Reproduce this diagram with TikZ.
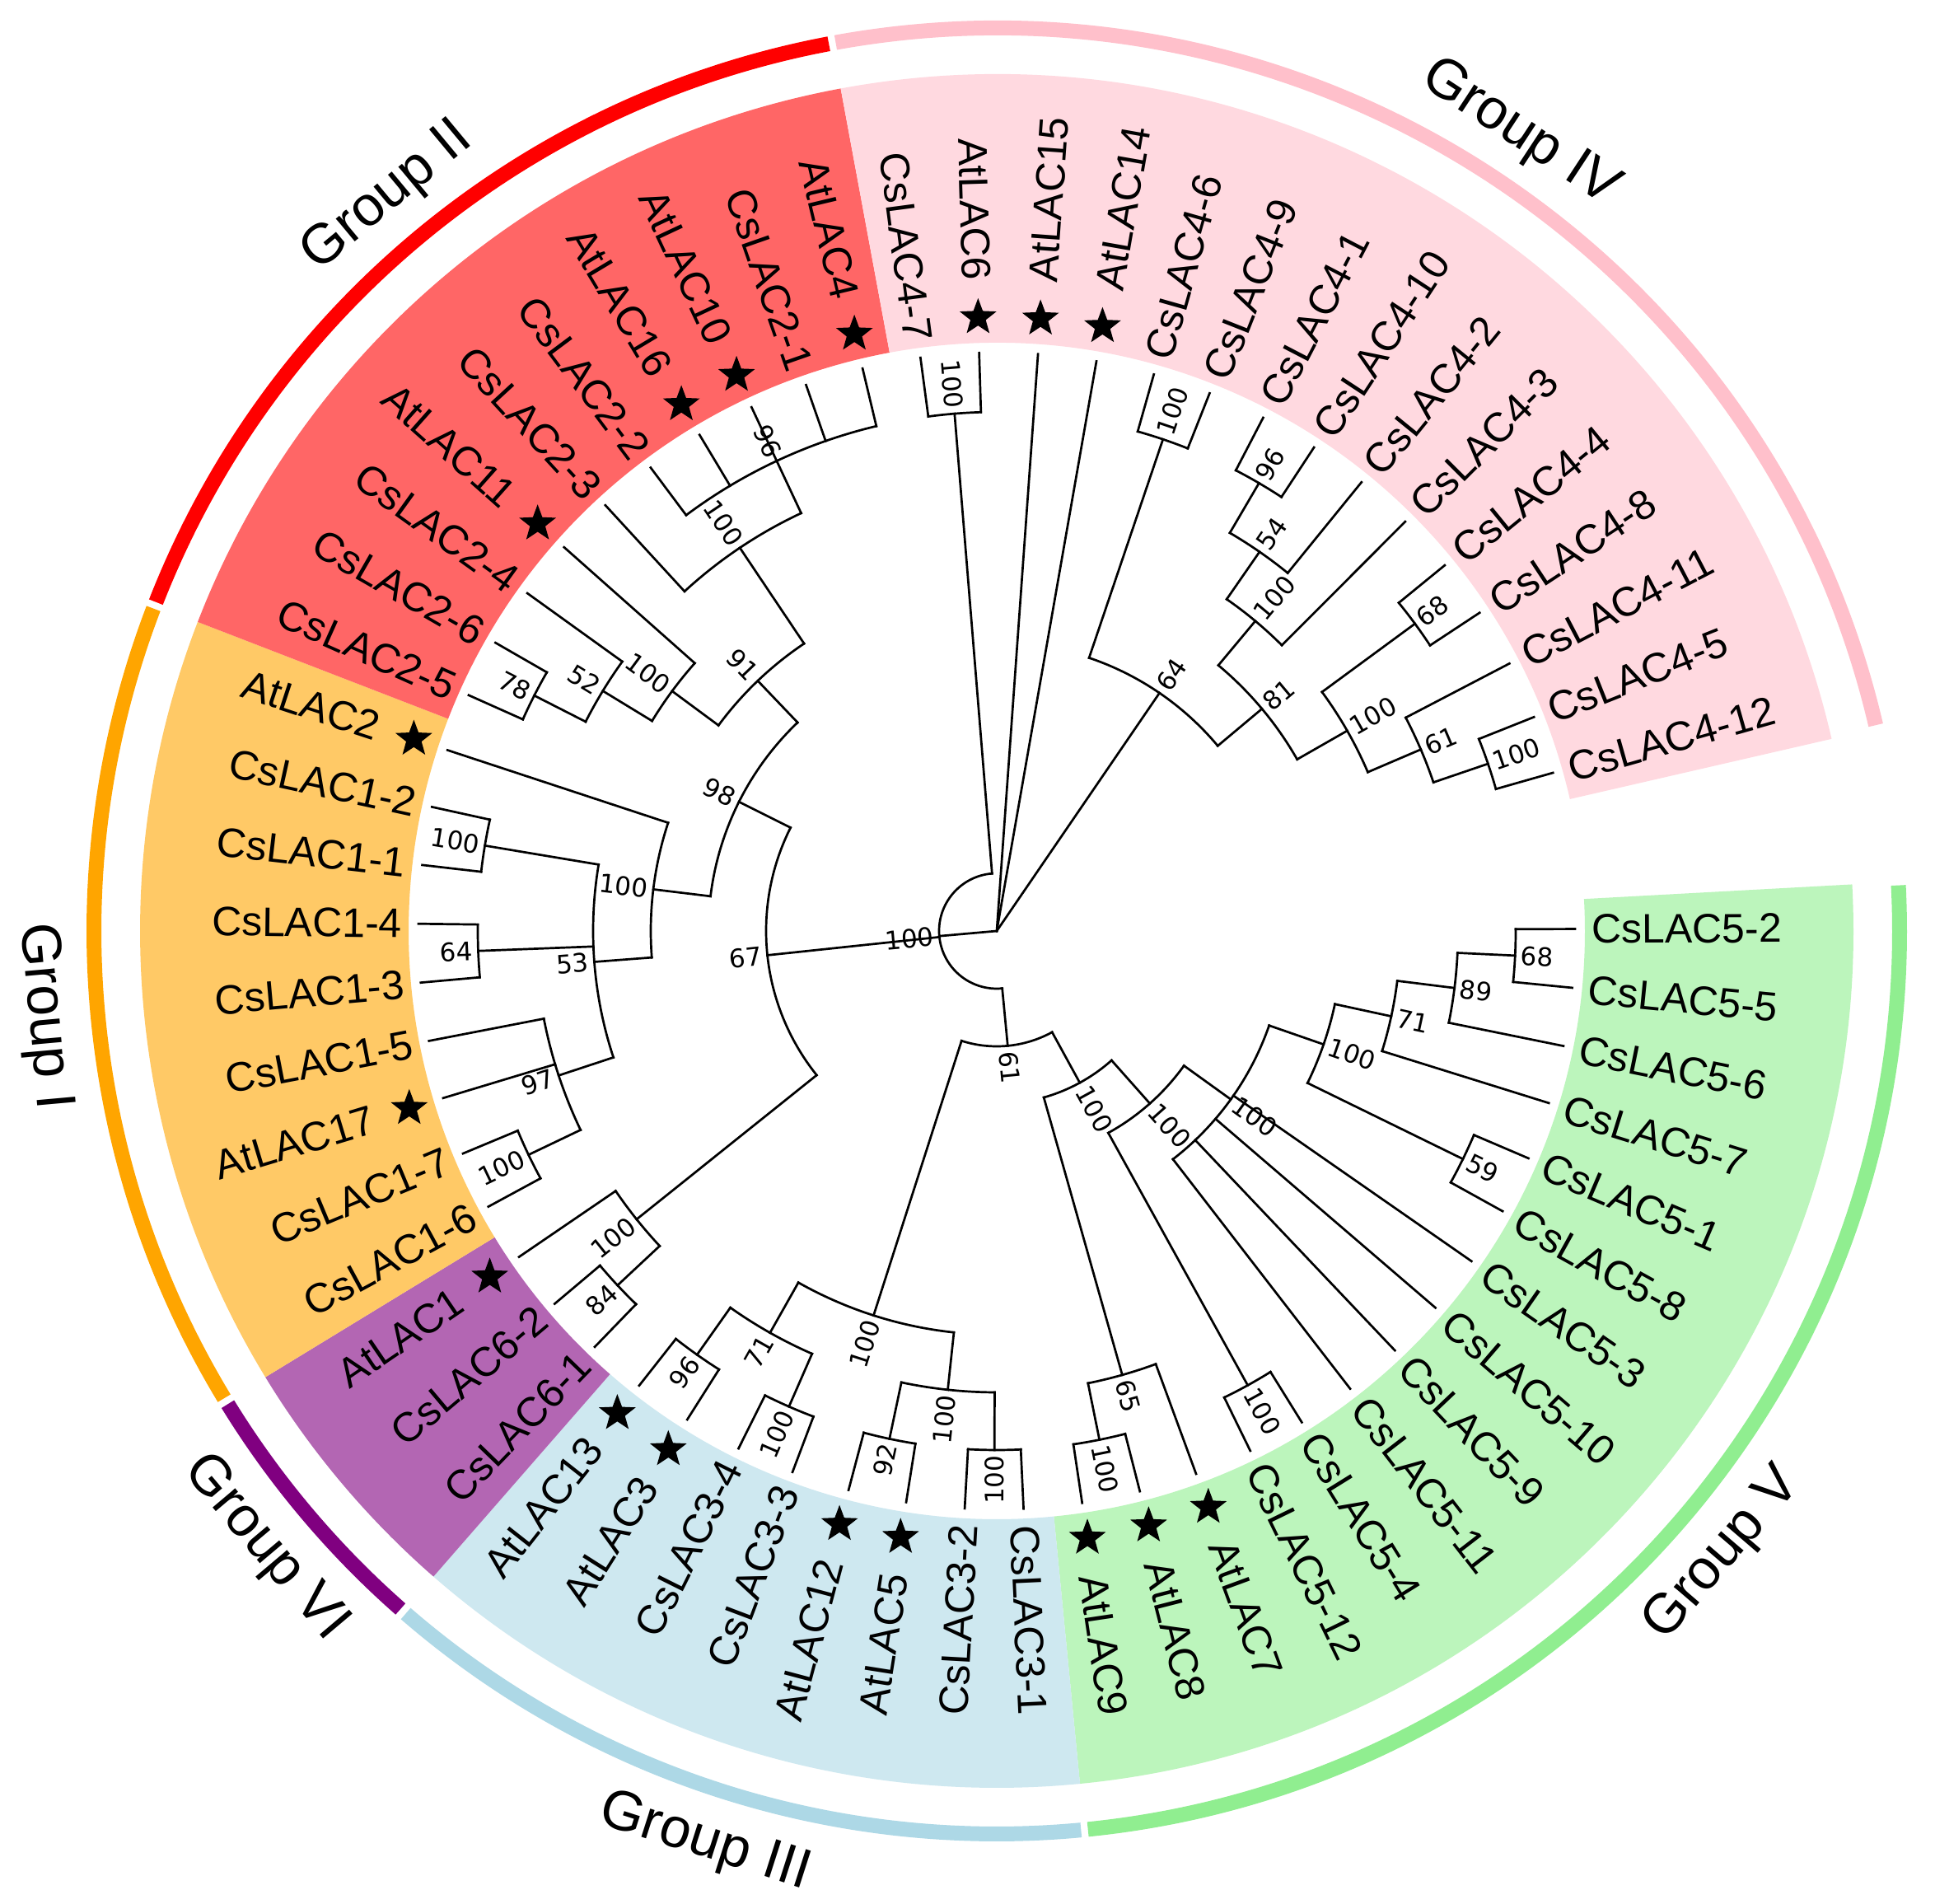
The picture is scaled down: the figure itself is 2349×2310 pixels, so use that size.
\documentclass[tikz,border=0pt]{standalone}
\usepackage{fontspec}
\setmainfont{Liberation Sans}
\newfontfamily\bsfont{DejaVu Sans}
\usetikzlibrary{shapes.geometric}

\definecolor{gI}{RGB}{255,165,0}
\definecolor{gII}{RGB}{255,0,0}
\definecolor{gIII}{RGB}{173,216,230}
\definecolor{gIV}{RGB}{255,192,203}
\definecolor{gV}{RGB}{144,238,144}
\definecolor{gVI}{RGB}{128,0,128}

\newcommand\tsetA[2]{\expandafter\xdef\csname tA@#1\endcsname{#2}}
\newcommand\tsetR[2]{\expandafter\xdef\csname tR@#1\endcsname{#2}}
\newcommand\tA[1]{\csname tA@#1\endcsname}
\newcommand\tR[1]{\csname tR@#1\endcsname}

\tikzset{
  branch/.style={line width=2.7pt, line cap=rect, black},
  leaflbl/.style={font=\fontsize{50}{60}\selectfont, inner sep=0pt},
  bslbl/.style={font=\bsfont\fontsize{31}{36}\selectfont, inner sep=0.5pt},
  starmark/.style={star, star points=5, star point ratio=2.4, fill=black, draw=none, minimum size=47pt, inner sep=0pt},
  grplbl/.style={font=\fontsize{68}{80}\selectfont, inner sep=0pt},
}

% leaf: name, index, text, star(1/0)
\newcommand\leafnode[4]{%
  \pgfmathsetmacro\lfA{0.2-5.836*#2}%
  \tsetA{#1}{\lfA}\tsetR{#1}{702}%
  \coordinate (#1) at (\lfA:702pt);%
  \ifnum#4=1\relax
    \node[starmark] (#1-star) at (\lfA:745pt) {};%
    \def\lfR{790}%
  \else
    \def\lfR{722}%
  \fi
  \pgfmathtruncatemacro\lfS{cos(\lfA)>=0 ? 1 : 0}%
  \ifnum\lfS=1\relax
    \node[leaflbl,rotate=\lfA,anchor=west] (#1-lbl) at (\lfA:\lfR pt) {#3};%
  \else
    \pgfmathsetmacro\lfRot{\lfA+180}%
    \node[leaflbl,rotate=\lfRot,anchor=east] (#1-lbl) at (\lfA:\lfR pt) {#3};%
  \fi
}

% internal node: name, level, first child, last child, children, bootstrap
\newcommand\inode[6]{%
  \pgfmathsetmacro\aF{\tA{#3}}%
  \pgfmathsetmacro\aL{\tA{#4}}%
  \pgfmathsetmacro\ndA{(\aF+\aL)/2}%
  \pgfmathsetmacro\ndR{70*#2}%
  \tsetA{#1}{\ndA}\tsetR{#1}{\ndR}%
  \coordinate (#1) at (\ndA:\ndR pt);%
  \ifnum#2>0\relax
    \draw[branch] (\aF:\ndR pt) arc[start angle=\aF, end angle=\aL, radius=\ndR pt];%
  \fi
  \foreach \cc in {#5}{%
    \pgfmathsetmacro\aC{\tA{\cc}}%
    \coordinate (\cc-b) at (\aC:\ndR pt);%
    \draw[branch] (\cc-b) -- (\cc);%
  }%
  \if\relax\detokenize{#6}\relax\else
    \pgfmathtruncatemacro\ndS{cos(\ndA)>=0 ? 1 : 0}%
    \pgfmathsetmacro\bsR{\ndR+6}%
    \ifnum\ndS=1\relax
      \node[bslbl,rotate=\ndA,anchor=west] (#1-bs) at (\ndA:\bsR pt) {#6};%
    \else
      \pgfmathsetmacro\bsRot{\ndA+180}%
      \node[bslbl,rotate=\bsRot,anchor=east] (#1-bs) at (\ndA:\bsR pt) {#6};%
    \fi
  \fi
}

% group sector and ring: start angle, end angle, colour
\newcommand\groupsector[3]{%
  \pgfmathsetmacro\gsA{#1}\pgfmathsetmacro\gsB{#2}%
  \pgfmathsetmacro\gsAr{#1-0.22}\pgfmathsetmacro\gsBr{#2+0.22}%
  \fill[#3!60!white] (\gsA:714pt) arc[start angle=\gsA,end angle=\gsB,radius=714pt]
    -- (\gsB:1040pt) arc[start angle=\gsB,end angle=\gsA,radius=1040pt] -- cycle;%
  \draw[#3,line width=18pt] (\gsAr:1096pt) arc[start angle=\gsAr,end angle=\gsBr,radius=1096pt];%
}

\begin{document}
\begin{tikzpicture}[x=1pt,y=1pt]
\fill[white] (-1210pt,-1180pt) rectangle (1139pt,1130pt);
\useasboundingbox (-1210pt,-1180pt) rectangle (1139pt,1130pt);

% shaded groups and outer rings
\groupsector{3.118}{-84.422}{gV}
\groupsector{-84.422}{-131.11}{gIII}
\groupsector{-131.11}{-148.618}{gVI}
\groupsector{-148.618}{-201.142}{gI}
\groupsector{-201.142}{-259.502}{gII}
\groupsector{-259.502}{-347.042}{gIV}

% group labels
\node[grplbl,rotate=-33.27] (g4) at (56.73:1158pt) {Group IV};
\node[grplbl,rotate=39.68] (g2) at (129.68:1158pt) {Group II};
\node[grplbl,rotate=275.12] (g1) at (185.12:1162pt) {Group I};
\node[grplbl,rotate=310.13] (g6) at (220.13:1162pt) {Group VI};
\node[grplbl,rotate=342.23] (g3) at (252.23:1162pt) {Group III};
\node[grplbl,rotate=49.35] (g5) at (-40.65:1162pt) {Group V};

% leaves
\leafnode{L0}{0}{CsLAC5-2}{0}
\leafnode{L1}{1}{CsLAC5-5}{0}
\leafnode{L2}{2}{CsLAC5-6}{0}
\leafnode{L3}{3}{CsLAC5-7}{0}
\leafnode{L4}{4}{CsLAC5-1}{0}
\leafnode{L5}{5}{CsLAC5-8}{0}
\leafnode{L6}{6}{CsLAC5-3}{0}
\leafnode{L7}{7}{CsLAC5-10}{0}
\leafnode{L8}{8}{CsLAC5-9}{0}
\leafnode{L9}{9}{CsLAC5-11}{0}
\leafnode{L10}{10}{CsLAC5-4}{0}
\leafnode{L11}{11}{CsLAC5-12}{0}
\leafnode{L12}{12}{AtLAC7}{1}
\leafnode{L13}{13}{AtLAC8}{1}
\leafnode{L14}{14}{AtLAC9}{1}
\leafnode{L15}{15}{CsLAC3-1}{0}
\leafnode{L16}{16}{CsLAC3-2}{0}
\leafnode{L17}{17}{AtLAC5}{1}
\leafnode{L18}{18}{AtLAC12}{1}
\leafnode{L19}{19}{CsLAC3-3}{0}
\leafnode{L20}{20}{CsLAC3-4}{0}
\leafnode{L21}{21}{AtLAC3}{1}
\leafnode{L22}{22}{AtLAC13}{1}
\leafnode{L23}{23}{CsLAC6-1}{0}
\leafnode{L24}{24}{CsLAC6-2}{0}
\leafnode{L25}{25}{AtLAC1}{1}
\leafnode{L26}{26}{CsLAC1-6}{0}
\leafnode{L27}{27}{CsLAC1-7}{0}
\leafnode{L28}{28}{AtLAC17}{1}
\leafnode{L29}{29}{CsLAC1-5}{0}
\leafnode{L30}{30}{CsLAC1-3}{0}
\leafnode{L31}{31}{CsLAC1-4}{0}
\leafnode{L32}{32}{CsLAC1-1}{0}
\leafnode{L33}{33}{CsLAC1-2}{0}
\leafnode{L34}{34}{AtLAC2}{1}
\leafnode{L35}{35}{CsLAC2-5}{0}
\leafnode{L36}{36}{CsLAC2-6}{0}
\leafnode{L37}{37}{CsLAC2-4}{0}
\leafnode{L38}{38}{AtLAC11}{1}
\leafnode{L39}{39}{CsLAC2-3}{0}
\leafnode{L40}{40}{CsLAC2-2}{0}
\leafnode{L41}{41}{AtLAC16}{1}
\leafnode{L42}{42}{AtLAC10}{1}
\leafnode{L43}{43}{CsLAC2-1}{0}
\leafnode{L44}{44}{AtLAC4}{1}
\leafnode{L45}{45}{CsLAC4-7}{0}
\leafnode{L46}{46}{AtLAC6}{1}
\leafnode{L47}{47}{AtLAC15}{1}
\leafnode{L48}{48}{AtLAC14}{1}
\leafnode{L49}{49}{CsLAC4-6}{0}
\leafnode{L50}{50}{CsLAC4-9}{0}
\leafnode{L51}{51}{CsLAC4-1}{0}
\leafnode{L52}{52}{CsLAC4-10}{0}
\leafnode{L53}{53}{CsLAC4-2}{0}
\leafnode{L54}{54}{CsLAC4-3}{0}
\leafnode{L55}{55}{CsLAC4-4}{0}
\leafnode{L56}{56}{CsLAC4-8}{0}
\leafnode{L57}{57}{CsLAC4-11}{0}
\leafnode{L58}{58}{CsLAC4-5}{0}
\leafnode{L59}{59}{CsLAC4-12}{0}

% Group V
\inode{n68v}{9}{L0}{L1}{L0,L1}{68}
\inode{n89}{8}{L2}{n68v}{L2,n68v}{89}
\inode{n71v}{7}{L3}{n89}{L3,n89}{71}
\inode{n59}{9}{L4}{L5}{L4,L5}{59}
\inode{nVd}{6}{n71v}{n59}{n71v,n59}{100}
\inode{nVc}{5}{nVd}{L9}{nVd,L6,L7,L8,L9}{100}
\inode{n100va}{9}{L10}{L11}{L10,L11}{100}
\inode{nVb}{4}{nVc}{n100va}{nVc,n100va}{100}
\inode{n100vb}{9}{L13}{L14}{L13,L14}{100}
\inode{n65}{8}{L12}{n100vb}{L12,n100vb}{65}
\inode{nVa}{3}{nVb}{n65}{nVb,n65}{100}
% Group III
\inode{n100ca}{9}{L15}{L16}{L15,L16}{100}
\inode{n92}{9}{L17}{L18}{L17,L18}{92}
\inode{nIIIR}{8}{n100ca}{n92}{n100ca,n92}{100}
\inode{n100cb}{9}{L19}{L20}{L19,L20}{100}
\inode{n96iii}{9}{L21}{L22}{L21,L22}{96}
\inode{n71iii}{8}{n100cb}{n96iii}{n100cb,n96iii}{71}
\inode{nIII}{7}{nIIIR}{n71iii}{nIIIR,n71iii}{100}
\inode{n61}{2}{nVa}{nIII}{nVa,nIII}{61}
% Group VI
\inode{n84}{9}{L23}{L24}{L23,L24}{84}
\inode{nVI}{8}{n84}{L25}{n84,L25}{100}
% Group I
\inode{n100ia}{9}{L26}{L27}{L26,L27}{100}
\inode{n97}{8}{n100ia}{L29}{n100ia,L28,L29}{97}
\inode{n64i}{9}{L30}{L31}{L30,L31}{64}
\inode{n100ib}{9}{L32}{L33}{L32,L33}{100}
\inode{n53}{7}{n97}{n100ib}{n97,n64i,n100ib}{53}
\inode{nIa}{6}{n53}{L34}{n53,L34}{100}
% Group II
\inode{n78}{9}{L35}{L36}{L35,L36}{78}
\inode{n52}{8}{n78}{L37}{n78,L37}{52}
\inode{nIIb}{7}{n52}{L38}{n52,L38}{100}
\inode{n96ii}{9}{L40}{L44}{L40,L41,L42,L43,L44}{96}
\inode{nIIc}{8}{L39}{n96ii}{L39,n96ii}{100}
\inode{n91}{6}{nIIb}{nIIc}{nIIb,nIIc}{91}
\inode{n98}{5}{nIa}{n91}{nIa,n91}{98}
\inode{n67}{4}{nVI}{n98}{nVI,n98}{67}
% Group IV and root
\inode{nA}{9}{L45}{L46}{L45,L46}{100}
\inode{nN}{1}{nA}{n61}{nA,n67,n61}{100}
\inode{n100iva}{9}{L49}{L50}{L49,L50}{100}
\inode{n96iv}{9}{L51}{L52}{L51,L52}{96}
\inode{n54}{8}{n96iv}{L53}{n96iv,L53}{54}
\inode{nIVb}{7}{n54}{L54}{n54,L54}{100}
\inode{n68iv}{9}{L55}{L56}{L55,L56}{68}
\inode{n100ivb}{9}{L58}{L59}{L58,L59}{100}
\inode{n61iv}{8}{L57}{n100ivb}{L57,n100ivb}{61}
\inode{nIVc}{7}{n68iv}{n61iv}{n68iv,n61iv}{100}
\inode{n81}{6}{nIVb}{nIVc}{nIVb,nIVc}{81}
\inode{n64}{5}{n100iva}{n81}{n100iva,n81}{64}
\inode{root}{0}{nN}{n64}{nN,L47,L48,n64}{}
\end{tikzpicture}
\end{document}
